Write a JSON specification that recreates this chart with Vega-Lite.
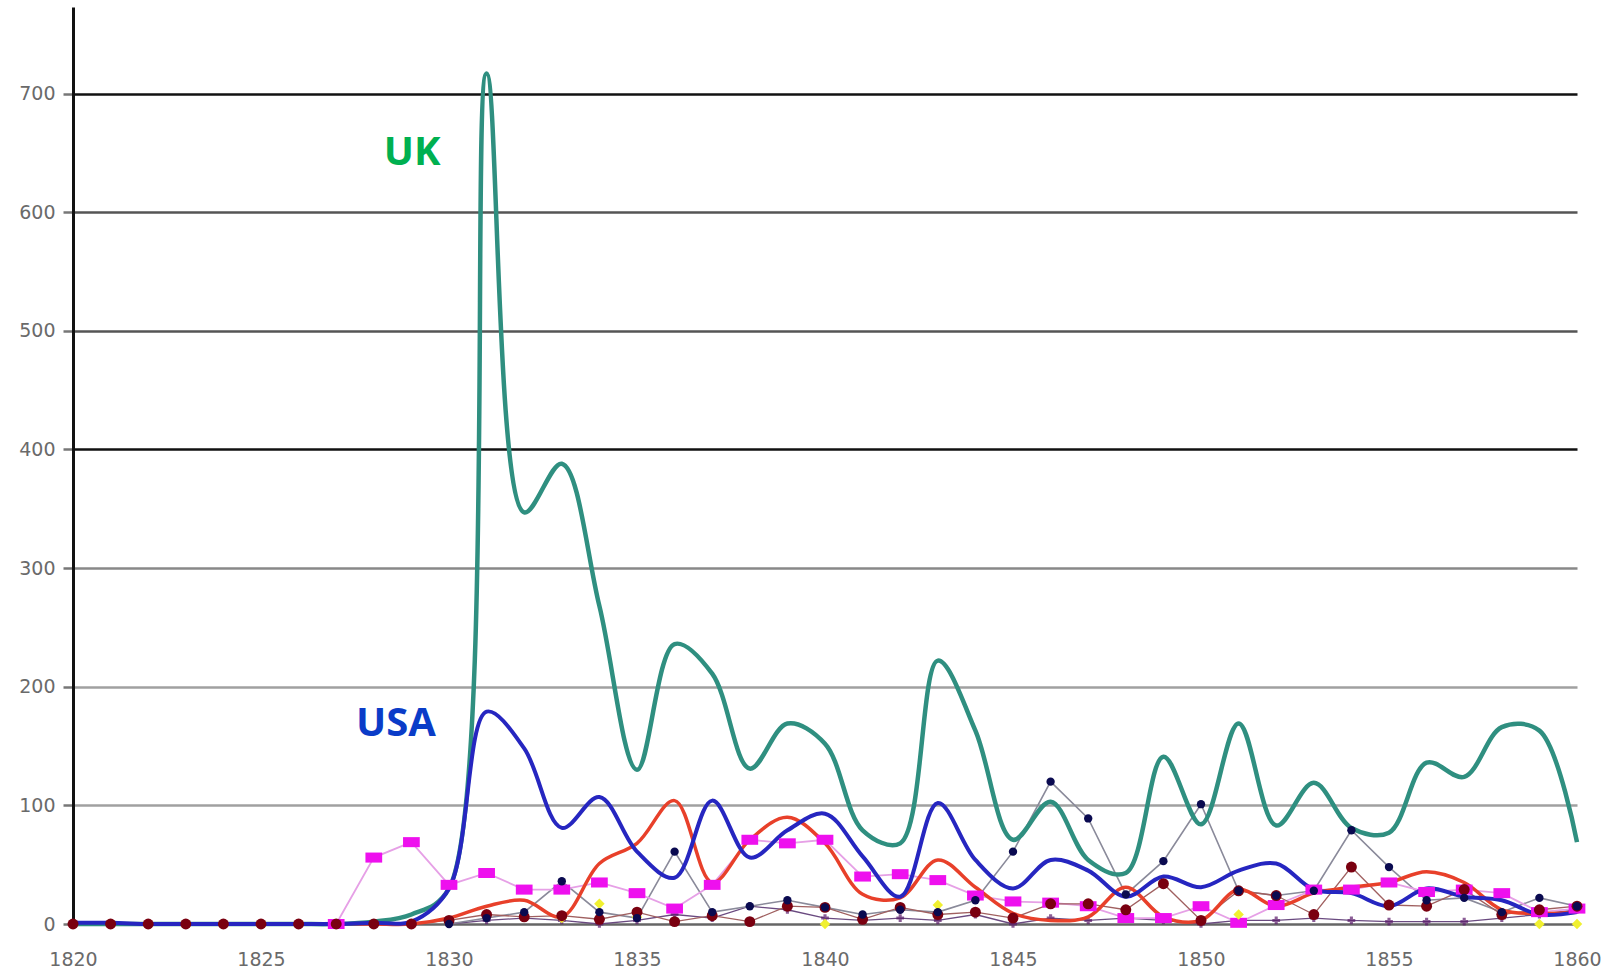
{
  "$schema": "https://vega.github.io/schema/vega-lite/v6.json",
  "width": 1504,
  "height": 917,
  "autosize": {"type": "none"},
  "padding": {"left": 73, "top": 7, "right": 33, "bottom": 47},
  "background": "white",
  "config": {"view": {"stroke": null}},
  "datasets": {
    "uk": [
      {"year":1820,"value":0},{"year":1821,"value":0},{"year":1822,"value":0},{"year":1823,"value":0},{"year":1824,"value":0},
      {"year":1825,"value":0},{"year":1826,"value":0},{"year":1827,"value":0},{"year":1828,"value":2},{"year":1829,"value":8},
      {"year":1830,"value":30},{"year":1831,"value":717},{"year":1832,"value":347},{"year":1833,"value":388},{"year":1834,"value":268},
      {"year":1835,"value":130},{"year":1836,"value":236},{"year":1837,"value":211},{"year":1838,"value":131},{"year":1839,"value":169},
      {"year":1840,"value":152},{"year":1841,"value":79},{"year":1842,"value":68},{"year":1843,"value":222},{"year":1844,"value":163},
      {"year":1845,"value":71},{"year":1846,"value":103},{"year":1847,"value":54},{"year":1848,"value":43},{"year":1849,"value":141},
      {"year":1850,"value":84},{"year":1851,"value":169},{"year":1852,"value":83},{"year":1853,"value":119},{"year":1854,"value":81},
      {"year":1855,"value":77},{"year":1856,"value":136},{"year":1857,"value":124},{"year":1858,"value":166},{"year":1859,"value":163},
      {"year":1860,"value":69}
    ],
    "usa": [
      {"year":1820,"value":1},{"year":1821,"value":1},{"year":1822,"value":0},{"year":1823,"value":0},{"year":1824,"value":0},
      {"year":1825,"value":0},{"year":1826,"value":0},{"year":1827,"value":0},{"year":1828,"value":1},{"year":1829,"value":2},
      {"year":1830,"value":30},{"year":1831,"value":179},{"year":1832,"value":148},{"year":1833,"value":81},{"year":1834,"value":107},
      {"year":1835,"value":61},{"year":1836,"value":39},{"year":1837,"value":104},{"year":1838,"value":56},{"year":1839,"value":79},
      {"year":1840,"value":93},{"year":1841,"value":57},{"year":1842,"value":23},{"year":1843,"value":102},{"year":1844,"value":54},
      {"year":1845,"value":30},{"year":1846,"value":54},{"year":1847,"value":45},{"year":1848,"value":23},{"year":1849,"value":40},
      {"year":1850,"value":31},{"year":1851,"value":45},{"year":1852,"value":51},{"year":1853,"value":29},{"year":1854,"value":26},
      {"year":1855,"value":15},{"year":1856,"value":30},{"year":1857,"value":23},{"year":1858,"value":20},{"year":1859,"value":8},
      {"year":1860,"value":10}
    ],
    "red": [
      {"year":1820,"value":0},{"year":1821,"value":0},{"year":1822,"value":0},{"year":1823,"value":0},{"year":1824,"value":0},
      {"year":1825,"value":0},{"year":1826,"value":0},{"year":1827,"value":0},{"year":1828,"value":0},{"year":1829,"value":0},
      {"year":1830,"value":5},{"year":1831,"value":15},{"year":1832,"value":20},{"year":1833,"value":6},{"year":1834,"value":51},
      {"year":1835,"value":68},{"year":1836,"value":104},{"year":1837,"value":35},{"year":1838,"value":71},{"year":1839,"value":90},
      {"year":1840,"value":68},{"year":1841,"value":25},{"year":1842,"value":22},{"year":1843,"value":54},{"year":1844,"value":31},
      {"year":1845,"value":9},{"year":1846,"value":3},{"year":1847,"value":6},{"year":1848,"value":31},{"year":1849,"value":6},
      {"year":1850,"value":3},{"year":1851,"value":29},{"year":1852,"value":15},{"year":1853,"value":26},{"year":1854,"value":31},
      {"year":1855,"value":35},{"year":1856,"value":44},{"year":1857,"value":35},{"year":1858,"value":12},{"year":1859,"value":9},
      {"year":1860,"value":10}
    ],
    "magenta": [
      {"year":1827,"value":0},{"year":1828,"value":56},{"year":1829,"value":69},
      {"year":1830,"value":33},{"year":1831,"value":43},{"year":1832,"value":29},{"year":1833,"value":29},{"year":1834,"value":35},
      {"year":1835,"value":26},{"year":1836,"value":13},{"year":1837,"value":33},{"year":1838,"value":71},{"year":1839,"value":68},
      {"year":1840,"value":71},{"year":1841,"value":40},{"year":1842,"value":42},{"year":1843,"value":37},{"year":1844,"value":24},
      {"year":1845,"value":19},{"year":1846,"value":18},{"year":1847,"value":15},{"year":1848,"value":5},{"year":1849,"value":5},
      {"year":1850,"value":15},{"year":1851,"value":1},{"year":1852,"value":16},{"year":1853,"value":29},{"year":1854,"value":29},
      {"year":1855,"value":35},{"year":1856,"value":27},{"year":1857,"value":29},{"year":1858,"value":26},{"year":1859,"value":10},
      {"year":1860,"value":13}
    ],
    "navy": [
      {"year":1830,"value":0},{"year":1831,"value":5},{"year":1832,"value":10},{"year":1833,"value":36},{"year":1834,"value":10},
      {"year":1835,"value":5},{"year":1836,"value":61},{"year":1837,"value":10},{"year":1838,"value":15},{"year":1839,"value":20},
      {"year":1840,"value":14},{"year":1841,"value":8},{"year":1842,"value":12},{"year":1843,"value":10},{"year":1844,"value":20},
      {"year":1845,"value":61},{"year":1846,"value":120},{"year":1847,"value":89},{"year":1848,"value":25},{"year":1849,"value":53},
      {"year":1850,"value":101},{"year":1851,"value":28},{"year":1852,"value":24},{"year":1853,"value":28},{"year":1854,"value":79},
      {"year":1855,"value":48},{"year":1856,"value":20},{"year":1857,"value":22},{"year":1858,"value":10},{"year":1859,"value":22},
      {"year":1860,"value":15}
    ],
    "maroon": [
      {"year":1820,"value":0},{"year":1821,"value":0},{"year":1822,"value":0},{"year":1823,"value":0},{"year":1824,"value":0},
      {"year":1825,"value":0},{"year":1826,"value":0},{"year":1827,"value":0},{"year":1828,"value":0},{"year":1829,"value":0},
      {"year":1830,"value":3},{"year":1831,"value":8},{"year":1832,"value":6},{"year":1833,"value":7},{"year":1834,"value":4},
      {"year":1835,"value":10},{"year":1836,"value":2},{"year":1837,"value":7},{"year":1838,"value":2},{"year":1839,"value":15},
      {"year":1840,"value":14},{"year":1841,"value":4},{"year":1842,"value":14},{"year":1843,"value":8},{"year":1844,"value":10},
      {"year":1845,"value":5},{"year":1846,"value":17},{"year":1847,"value":17},{"year":1848,"value":12},{"year":1849,"value":34},
      {"year":1850,"value":3},{"year":1851,"value":28},{"year":1852,"value":24},{"year":1853,"value":8},{"year":1854,"value":48},
      {"year":1855,"value":16},{"year":1856,"value":15},{"year":1857,"value":29},{"year":1858,"value":8},{"year":1859,"value":12},
      {"year":1860,"value":15}
    ],
    "purple": [
      {"year":1830,"value":0},{"year":1831,"value":3},{"year":1832,"value":5},{"year":1833,"value":3},{"year":1834,"value":0},
      {"year":1835,"value":3},{"year":1836,"value":8},{"year":1837,"value":5},{"year":1838,"value":15},{"year":1839,"value":12},
      {"year":1840,"value":5},{"year":1841,"value":3},{"year":1842,"value":5},{"year":1843,"value":3},{"year":1844,"value":8},
      {"year":1845,"value":0},{"year":1846,"value":5},{"year":1847,"value":3},{"year":1848,"value":5},{"year":1849,"value":3},
      {"year":1850,"value":0},{"year":1851,"value":3},{"year":1852,"value":3},{"year":1853,"value":5},{"year":1854,"value":3},
      {"year":1855,"value":2},{"year":1856,"value":2},{"year":1857,"value":2},{"year":1858,"value":5},{"year":1859,"value":8},
      {"year":1860,"value":12}
    ],
    "yellow": [
      {"year":1833,"value":5},{"year":1834,"value":17},{"year":1835,"value":6},{"year":1840,"value":0},{"year":1843,"value":16},
      {"year":1851,"value":8},{"year":1859,"value":0},{"year":1860,"value":0}
    ],
    "labels": [
      {"year":1829.02,"value":650,"label":"UK"},
      {"year":1828.59,"value":169,"label":"USA"}
    ]
  },
  "encoding": {
    "x": {
      "field": "year", "type": "quantitative",
      "scale": {"domain": [1820, 1860], "nice": false, "zero": false},
      "axis": {
        "title": null, "values": [1820,1825,1830,1835,1840,1845,1850,1855,1860], "format": "d",
        "grid": false, "domain": false, "ticks": false, "labelPadding": 26, "labelFlush": false,
        "labelFont": "DejaVu Sans", "labelFontSize": 19, "labelColor": "#6a6a6a"
      }
    },
    "y": {
      "field": "value", "type": "quantitative",
      "scale": {"domain": [0, 773], "nice": false},
      "axis": {
        "title": null, "values": [0,100,200,300,400,500,600,700],
        "grid": true,
        "gridColor": {"condition": [
          {"test": "datum.value === 700 || datum.value === 400", "value": "#111111"},
          {"test": "datum.value === 600 || datum.value === 500", "value": "#555555"},
          {"test": "datum.value === 300", "value": "#888888"},
          {"test": "datum.value === 0", "value": "#666666"}
        ], "value": "#a0a0a0"},
        "gridWidth": 2.5, "gridOpacity": 1,
        "domain": true, "domainColor": "#111111", "domainWidth": 3,
        "ticks": true, "tickSize": 10, "tickColor": "#777777", "tickWidth": 2.5,
        "labelPadding": 8, "labelFont": "DejaVu Sans", "labelFontSize": 19, "labelColor": "#6a6a6a"
      }
    }
  },
  "layer": [
    {"data": {"name": "purple"}, "mark": {"type": "line", "color": "#6a4a80", "strokeWidth": 1.3}},
    {"data": {"name": "purple"}, "mark": {"type": "point", "shape": "cross", "filled": true, "color": "#5a1a6a", "size": 60}},
    {"data": {"name": "navy"}, "mark": {"type": "line", "color": "#8a8a9a", "strokeWidth": 1.6}},
    {"data": {"name": "magenta"}, "mark": {"type": "line", "color": "#e6a0e6", "strokeWidth": 1.8}},
    {"data": {"name": "maroon"}, "mark": {"type": "line", "color": "#a06060", "strokeWidth": 1.3}},
    {"data": {"name": "red"}, "mark": {"type": "line", "color": "#e8402a", "strokeWidth": 3.5, "interpolate": "catmull-rom"}},
    {"data": {"name": "uk"}, "mark": {"type": "line", "color": "#2f8f80", "strokeWidth": 4.5, "interpolate": "catmull-rom"}},
    {"data": {"name": "usa"}, "mark": {"type": "line", "color": "#2626c0", "strokeWidth": 4, "interpolate": "catmull-rom"}},
    {"data": {"name": "magenta"}, "mark": {"type": "point", "shape": "M-1,-0.6H1V0.6H-1Z", "filled": true, "color": "#ee10ee", "opacity": 1, "size": 280}},
    {"data": {"name": "yellow"}, "mark": {"type": "point", "shape": "diamond", "filled": true, "color": "#f0f030", "opacity": 1, "size": 110}},
    {"data": {"name": "maroon"}, "mark": {"type": "point", "shape": "circle", "filled": true, "color": "#7a0010", "opacity": 1, "size": 120}},
    {"data": {"name": "navy"}, "mark": {"type": "point", "shape": "circle", "filled": true, "color": "#0a0a50", "opacity": 1, "size": 70}},
    {"data": {"name": "labels"},
     "mark": {"type": "text", "font": "Open Sans", "fontWeight": "bold", "fontSize": 40, "align": "center", "baseline": "middle"},
     "encoding": {
       "text": {"field": "label"},
       "color": {"field": "label", "type": "nominal", "scale": {"domain": ["UK", "USA"], "range": ["#00b050", "#0a3cc8"]}, "legend": null}
     }}
  ]
}
